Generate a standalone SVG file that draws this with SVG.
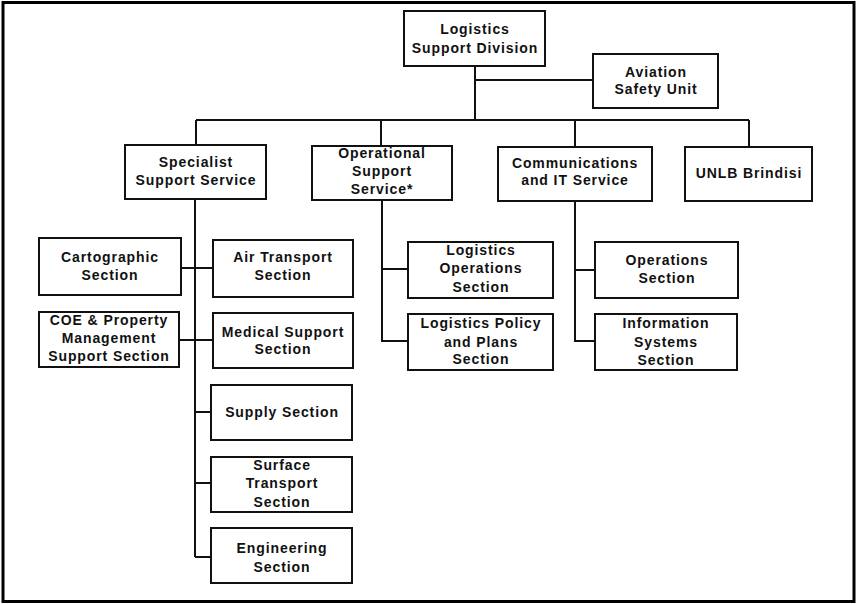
<svg xmlns="http://www.w3.org/2000/svg" width="856" height="604" viewBox="0 0 856 604">
<style>
.box{fill:#fff;stroke:#111;stroke-width:2}
.ln{fill:none;stroke:#111;stroke-width:2}
text{font-family:"Liberation Sans",Arial,sans-serif;font-weight:bold;font-size:14px;letter-spacing:0.9px;fill:#111;text-anchor:middle}
</style>
<rect x="0" y="0" width="856" height="604" fill="#fff"/>
<rect x="3" y="2.5" width="851" height="599" fill="none" stroke="#000" stroke-width="3"/>
<g id="connectors">
<path class="ln" d="M475 66V120M475 80H593M196 120H749M196 120V145M381 120V146M575 120V147M749 120V147"/>
<path class="ln" d="M195 199V557M181 268H213M179 340H213M195 412H211M195 483H211M195 557H211"/>
<path class="ln" d="M382 200V341H408M382 269H408"/>
<path class="ln" d="M575 201V341H595M575 270H595"/>
</g>
<g id="lsd"><rect class="box" x="404" y="11" width="141" height="55"/><text x="475" y="34">Logistics</text><text x="475" y="53">Support Division</text></g>
<g id="asu"><rect class="box" x="593" y="54" width="125" height="54"/><text x="656" y="77">Aviation</text><text x="656" y="94">Safety Unit</text></g>
<g id="sss"><rect class="box" x="125" y="145" width="141" height="54"/><text x="196" y="167">Specialist</text><text x="196" y="185">Support Service</text></g>
<g id="oss"><rect class="box" x="312" y="146" width="140" height="54"/><text x="382" y="158">Operational</text><text x="382" y="176">Support</text><text x="382" y="194">Service*</text></g>
<g id="cits"><rect class="box" x="498" y="147" width="154" height="54"/><text x="575" y="168">Communications</text><text x="575" y="185">and IT Service</text></g>
<g id="unlb"><rect class="box" x="685" y="147" width="127" height="54"/><text x="749" y="178">UNLB Brindisi</text></g>
<g id="carto"><rect class="box" x="39" y="238" width="142" height="57"/><text x="110" y="262">Cartographic</text><text x="110" y="280">Section</text></g>
<g id="air"><rect class="box" x="213" y="240" width="140" height="57"/><text x="283" y="262">Air Transport</text><text x="283" y="280">Section</text></g>
<g id="coe"><rect class="box" x="39" y="312" width="140" height="55"/><text x="109" y="325">COE &amp; Property</text><text x="109" y="343">Management</text><text x="109" y="361">Support Section</text></g>
<g id="med"><rect class="box" x="213" y="313" width="140" height="55"/><text x="283" y="337">Medical Support</text><text x="283" y="354">Section</text></g>
<g id="supply"><rect class="box" x="211" y="385" width="141" height="55"/><text x="282" y="417">Supply Section</text></g>
<g id="surface"><rect class="box" x="211" y="457" width="141" height="55"/><text x="282" y="470">Surface</text><text x="282" y="488">Transport</text><text x="282" y="507">Section</text></g>
<g id="eng"><rect class="box" x="211" y="528" width="141" height="55"/><text x="282" y="553">Engineering</text><text x="282" y="572">Section</text></g>
<g id="logops"><rect class="box" x="408" y="242" width="145" height="56"/><text x="481" y="255">Logistics</text><text x="481" y="273">Operations</text><text x="481" y="292">Section</text></g>
<g id="logpol"><rect class="box" x="408" y="314" width="145" height="56"/><text x="481" y="328">Logistics Policy</text><text x="481" y="347">and Plans</text><text x="481" y="364">Section</text></g>
<g id="ops"><rect class="box" x="595" y="242" width="143" height="56"/><text x="667" y="265">Operations</text><text x="667" y="283">Section</text></g>
<g id="info"><rect class="box" x="595" y="314" width="142" height="56"/><text x="666" y="328">Information</text><text x="666" y="347">Systems</text><text x="666" y="365">Section</text></g>
</svg>
